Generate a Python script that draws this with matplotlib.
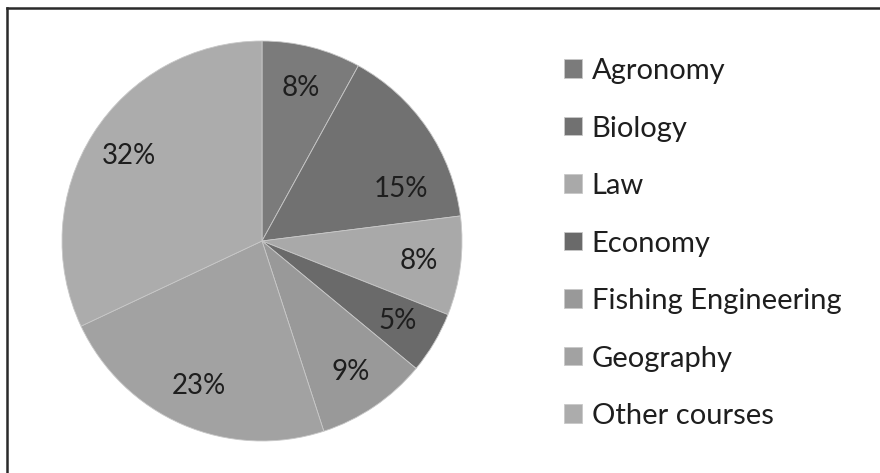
import matplotlib.pyplot as plt
import numpy as np

categories = ["Agronomy", "Biology", "Law", "Economy", "Fishing Engineering", "Geography", "Other courses"]
shares = [8, 15, 8, 5, 9, 23, 32]
colors = ["#7b7b7b", "#717171", "#a9a9a9", "#6a6a6a", "#999999", "#a2a2a2", "#acacac"]

plt.rcParams['font.family'] = ['Lato', 'DejaVu Sans']

fig = plt.figure(figsize=(8.8, 4.73), dpi=100)

# pie axes, centred at about (262, 241) px with radius ~200 px
cx, cy, r = 262, 241, 200
ax = fig.add_axes([(cx - r) / 880, (473 - cy - r) / 473, 2 * r / 880, 2 * r / 473])
wedges, texts, autotexts = ax.pie(shares, colors=colors, startangle=90, counterclock=False,
                                  autopct='%d%%', pctdistance=0.79,
                                  wedgeprops=dict(linewidth=0.6, edgecolor='#c8c8c8'),
                                  textprops=dict(fontsize=20, color='#1e1e1e'))
ax.set_xlim(-1, 1)
ax.set_ylim(-1, 1)
ax.set_aspect('auto')

# the 15% label sits lower in the original (best-fit placement)
ang = np.deg2rad(20.7)
autotexts[1].set_position((0.74 * np.cos(ang), 0.74 * np.sin(ang)))

leg = fig.legend(wedges, categories, loc='upper left', bbox_to_anchor=(564 / 880, 1 - 58 / 473),
                 frameon=False, fontsize=21, handlelength=0.6, handleheight=0.6,
                 handletextpad=0.35, labelspacing=1.08, borderaxespad=0, borderpad=0)
for t in leg.get_texts():
    t.set_color('#1e1e1e')

# frame lines on top and left, as in the scanned figure
fig.add_artist(plt.Line2D([6.5 / 880, 1], [1 - 8.5 / 473] * 2, color='#2a2a2a', lw=1.8))
fig.add_artist(plt.Line2D([6.5 / 880] * 2, [0, 1 - 8.5 / 473], color='#2a2a2a', lw=1.8))

fig.savefig('out.png', dpi=100)
